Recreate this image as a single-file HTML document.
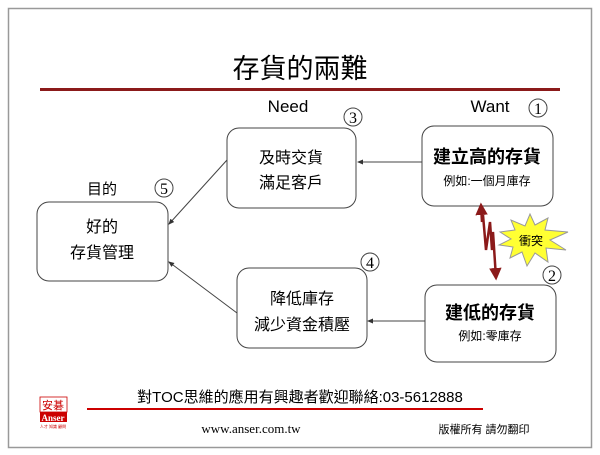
<!DOCTYPE html>
<html><head><meta charset="utf-8"><style>
body{margin:0;background:#fff;}
svg text{font-family:"Liberation Sans","Noto Sans CJK TC",sans-serif;}
svg text.s{font-family:"Liberation Serif","Noto Serif CJK SC",serif;}
</style></head><body>
<svg width="600" height="450" viewBox="0 0 600 450" xmlns="http://www.w3.org/2000/svg">
<defs><marker id="a" markerWidth="6" markerHeight="6" refX="5" refY="3" orient="auto"><path d="M0,0.5 L6,3 L0,5.5z" fill="#333"/></marker>
<marker id="r" markerWidth="5" markerHeight="5" refX="4" refY="2.5" orient="auto"><path d="M0,0 L5,2.5 L0,5z" fill="#8b1a1a"/></marker></defs>
<rect x="8.5" y="8.5" width="583" height="439" fill="#fff" stroke="#999" stroke-width="1.5"/>
<text x="300" y="78" font-size="27" text-anchor="middle">存貨的兩難</text>
<line x1="40" y1="89.5" x2="560" y2="89.5" stroke="#8b1a1a" stroke-width="3"/>
<text x="288" y="112" font-size="17" text-anchor="middle">Need</text>
<text x="490" y="112" font-size="17" text-anchor="middle">Want</text>
<text x="102" y="194" font-size="15" text-anchor="middle">目的</text>
<g fill="none" stroke="#444">
<rect x="37" y="202" width="131" height="79" rx="12"/>
<rect x="227" y="128" width="129" height="80" rx="12"/>
<rect x="237" y="268" width="130" height="80" rx="12"/>
<rect x="422" y="126" width="131" height="80" rx="12"/>
<rect x="425" y="285" width="131" height="77" rx="12"/>
<circle cx="353" cy="117" r="9"/><circle cx="164" cy="188" r="9"/><circle cx="370" cy="262" r="9"/><circle cx="538" cy="108" r="9"/><circle cx="552" cy="275" r="9"/>
</g>
<g font-size="16" text-anchor="middle">
<text class="s" x="353" y="123">3</text><text class="s" x="164" y="194">5</text><text class="s" x="370" y="268">4</text><text class="s" x="538" y="114">1</text><text class="s" x="552" y="281">2</text></g>
<g stroke="#444" stroke-width="1" marker-end="url(#a)">
<line x1="227" y1="160" x2="169" y2="224"/>
<line x1="237" y1="313" x2="169" y2="262"/>
<line x1="422" y1="162" x2="358" y2="162"/>
<line x1="425" y1="321" x2="368" y2="321"/>
</g>
<g font-size="16" text-anchor="middle">
<text x="102" y="232">好的</text><text x="102" y="258">存貨管理</text>
<text x="291" y="163">及時交貨</text><text x="291" y="188">滿足客戶</text>
<text x="302" y="304">降低庫存</text><text x="302" y="330">減少資金積壓</text>
<text x="487" y="163" font-size="18" font-weight="bold">建立高的存貨</text>
<text x="487" y="185" font-size="12">例如:一個月庫存</text>
<text x="490" y="319" font-size="18" font-weight="bold">建低的存貨</text>
<text x="490" y="340" font-size="12">例如:零庫存</text>
</g>
<path d="M483,215 L486,250 L490,222 L492,250 L493,232 L496,278" fill="none" stroke="#8b1a1a" stroke-width="2.5" marker-end="url(#r)"/>
<line x1="482" y1="222" x2="481" y2="205" stroke="#8b1a1a" stroke-width="2.5" marker-end="url(#r)"/>
<polygon points="500,232 515,230 511,220 525,226 530,214 535,225 548,218 545,230 568,232 550,240 566,250 546,248 548,262 535,253 527,266 522,252 510,258 513,247 499,245 511,239" fill="#ffff33" stroke="#999" stroke-width="1"/>
<text x="531" y="245" font-size="12" text-anchor="middle">衝突</text>
<text x="300" y="402" font-size="15" text-anchor="middle">對TOC思維的應用有興趣者歡迎聯絡:03-5612888</text>
<line x1="87" y1="409" x2="483" y2="409" stroke="#c00" stroke-width="2"/>
<text class="s" x="251" y="433" font-size="13" text-anchor="middle">www.anser.com.tw</text>
<text x="484" y="433" font-size="11" text-anchor="middle">版權所有 請勿翻印</text>
<rect x="40" y="397" width="27" height="15" fill="#fff" stroke="#c00" stroke-width="0.8"/>
<text x="53" y="409" font-size="11" fill="#c00" text-anchor="middle">安碁</text>
<rect x="40" y="412" width="27" height="10" fill="#c00"/>
<text class="s" x="53" y="421" font-size="9" fill="#fff" font-weight="bold" text-anchor="middle">Anser</text>
<text x="53" y="428" font-size="4" fill="#c00" text-anchor="middle">人才 知識 顧問</text>
</svg>
</body></html>
